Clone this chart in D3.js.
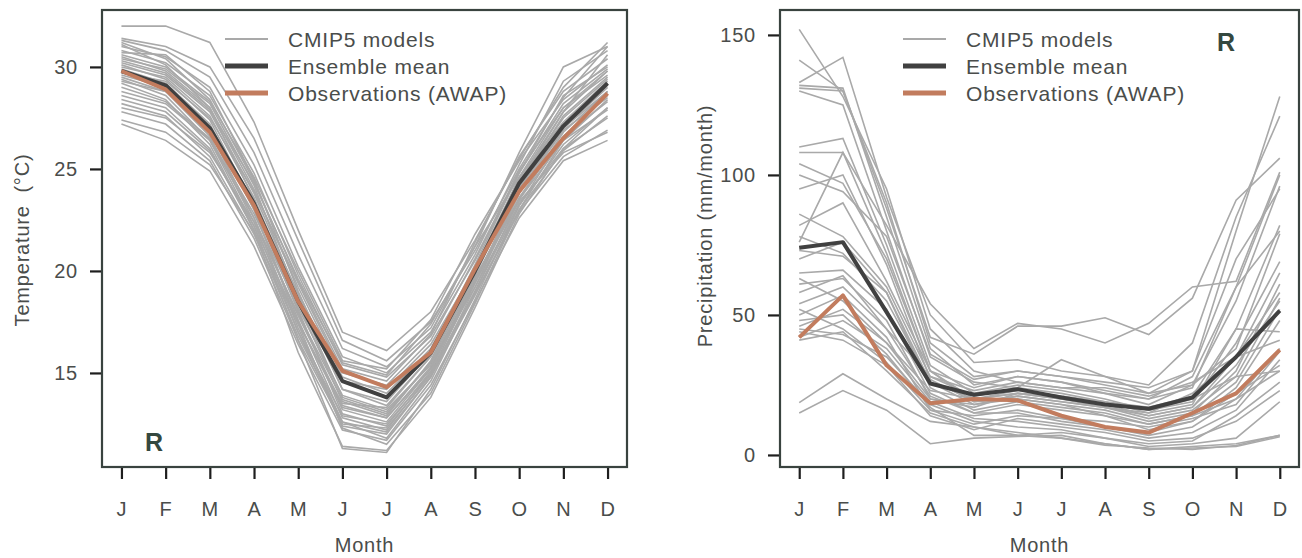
<!DOCTYPE html>
<html lang="en">
<head>
    <meta charset="UTF-8"/>
    <title>CMIP5 seasonal cycle</title>
    <script src="https://d3js.org/d3.v7.min.js"></script>
    <style type="text/css">
        body {
            margin: 0;
            background: white;
        }
        text {
            font-family: "Liberation Sans", Arial, sans-serif;
            fill: #4a4d4b;
            white-space: pre;
        }
    </style>
</head>
<body>
<svg id="main" width="1302" height="558"></svg>

<script>

// month labels
var months = ["J", "F", "M", "A", "M", "J", "J", "A", "S", "O", "N", "D"]

var legendLabels = ["CMIP5 models", "Ensemble mean", "Observations (AWAP)"]

// temperature (deg C), ensemble mean and AWAP observations
var tempMean = [29.8, 29.1, 27.0, 23.3, 18.5, 14.6, 13.8, 16.0, 20.0, 24.3, 27.1, 29.2]
var tempObs = [29.8, 28.9, 26.8, 23.2, 18.5, 15.1, 14.3, 16.0, 20.1, 23.9, 26.5, 28.7]

// temperature, one row per CMIP5 model
var tempModels = [
  [32.0, 32.0, 31.2, 27.3, 22.0, 17.0, 16.1, 18.0, 21.5, 25.5, 29.0, 31.2],
  [31.4, 31.0, 30.0, 26.5, 21.5, 16.6, 15.6, 17.5, 21.0, 25.0, 28.5, 31.0],
  [31.3, 30.8, 29.5, 25.8, 20.8, 16.2, 15.3, 17.2, 21.2, 25.8, 30.0, 31.0],
  [31.0, 30.5, 29.0, 25.2, 20.2, 15.8, 15.0, 17.0, 20.8, 25.2, 29.3, 30.8],
  [30.8, 30.2, 28.6, 24.8, 19.8, 15.4, 14.8, 16.8, 20.5, 24.8, 28.6, 30.0],
  [30.7, 30.6, 28.8, 24.5, 19.0, 14.2, 13.4, 15.8, 20.0, 24.6, 28.0, 29.8],
  [30.5, 29.8, 28.0, 24.0, 19.2, 14.8, 14.0, 16.2, 20.2, 24.5, 27.8, 29.8],
  [30.4, 29.9, 28.2, 24.2, 18.6, 13.8, 13.1, 15.5, 19.8, 24.2, 27.6, 29.5],
  [30.2, 29.6, 27.8, 23.8, 18.8, 14.2, 13.6, 16.0, 20.3, 24.8, 28.2, 29.9],
  [30.1, 29.4, 27.4, 23.2, 18.0, 13.2, 12.6, 15.2, 19.5, 24.0, 27.2, 29.2],
  [30.0, 29.5, 27.6, 23.6, 18.4, 13.6, 12.9, 15.6, 20.0, 24.4, 27.5, 29.4],
  [29.9, 29.2, 27.2, 23.0, 17.6, 12.8, 12.2, 15.0, 19.4, 23.9, 27.0, 29.0],
  [29.8, 29.0, 26.8, 22.6, 17.2, 12.6, 11.8, 14.6, 19.0, 23.5, 26.8, 28.8],
  [29.7, 29.3, 27.5, 23.9, 19.4, 15.0, 14.4, 16.6, 20.6, 24.9, 28.0, 29.6],
  [29.5, 28.8, 26.6, 22.4, 17.0, 12.4, 12.0, 14.8, 19.2, 23.8, 27.1, 29.1],
  [29.4, 28.6, 26.4, 22.2, 16.6, 11.3, 11.1, 14.2, 18.6, 23.2, 26.6, 28.6],
  [29.3, 28.8, 27.0, 23.4, 18.9, 14.6, 14.2, 16.4, 20.1, 24.1, 27.0, 28.8],
  [29.2, 28.4, 26.2, 22.0, 16.0, 11.4, 11.2, 13.8, 18.2, 22.8, 26.0, 28.0],
  [29.0, 28.3, 26.5, 22.8, 18.2, 13.9, 13.2, 15.4, 19.6, 23.8, 26.9, 28.5],
  [28.8, 28.2, 26.4, 22.6, 17.8, 13.4, 12.8, 15.2, 19.4, 23.6, 26.6, 28.3],
  [28.6, 28.0, 26.0, 22.0, 17.0, 12.9, 12.5, 15.0, 19.0, 23.2, 26.2, 28.0],
  [28.4, 27.8, 25.9, 22.2, 17.5, 13.3, 12.8, 15.3, 19.5, 23.5, 26.4, 27.9],
  [28.2, 27.6, 25.6, 21.8, 16.8, 12.6, 12.1, 14.8, 18.8, 23.0, 25.9, 27.6],
  [28.0, 27.5, 25.8, 22.4, 17.9, 13.7, 13.0, 15.5, 19.2, 23.3, 26.0, 27.5],
  [27.8, 27.2, 25.4, 21.6, 16.6, 12.5, 12.3, 14.9, 18.9, 22.9, 25.6, 26.9],
  [27.4, 26.8, 25.2, 21.9, 17.4, 13.5, 13.3, 15.8, 19.7, 23.4, 25.8, 26.8],
  [27.2, 26.4, 24.9, 21.2, 16.4, 12.2, 11.7, 14.4, 18.5, 22.6, 25.4, 26.4],
  [31.2, 30.4, 28.4, 24.4, 19.5, 15.2, 14.6, 16.9, 21.4, 25.6, 28.8, 30.4],
  [30.6, 30.0, 28.3, 24.6, 20.0, 15.6, 15.2, 17.6, 21.8, 25.4, 28.4, 30.1],
  [29.6, 29.0, 27.1, 23.0, 17.4, 12.3, 11.5, 14.0, 18.4, 23.0, 26.4, 28.4],
  [30.3, 29.7, 27.9, 24.3, 19.6, 15.5, 14.9, 17.4, 21.2, 24.6, 27.3, 29.3],
  [31.1, 30.1, 28.0, 23.5, 18.1, 13.0, 12.4, 15.1, 19.8, 24.3, 27.8, 30.6]
]
var tempTicks = [15, 20, 25, 30]

// precipitation (mm/month), ensemble mean and AWAP observations
var precMean = [74, 76, 51, 25.5, 21.5, 23.5, 20.5, 18, 16.5, 20.5, 35, 51.5]
var precObs = [42, 57, 32, 18.5, 20, 19.5, 14, 10, 8, 15, 22, 37.5]

// precipitation, one row per CMIP5 model
var precModels = [
  [152, 128, 95, 45, 30, 26, 24, 22, 20, 24, 60, 100],
  [141, 130, 90, 40, 28, 30, 28, 25, 22, 30, 80, 128],
  [133, 142, 92, 50, 33, 34, 30, 28, 25, 40, 85, 121],
  [132, 131, 85, 38, 25, 28, 26, 22, 18, 25, 55, 96],
  [131, 130, 88, 42, 36, 46, 46, 49, 43, 56, 91, 106],
  [130, 125, 80, 35, 26, 24, 22, 19, 17, 21, 45, 82],
  [110, 113, 75, 32, 22, 25, 23, 20, 16, 19, 40, 69],
  [108, 108, 82, 54, 38, 47, 45, 40, 47, 60, 62, 101],
  [104, 97, 70, 30, 20, 22, 20, 18, 14, 17, 35, 65],
  [100, 94, 78, 36, 27, 30, 28, 26, 24, 30, 70, 95],
  [86, 78, 60, 28, 21, 24, 34, 28, 22, 25, 38, 79],
  [82, 90, 62, 30, 19, 20, 18, 16, 12, 15, 30, 61],
  [78, 72, 55, 26, 18, 21, 19, 17, 13, 16, 28, 56],
  [73, 71, 58, 24, 16, 19, 17, 15, 11, 14, 26, 52],
  [65, 66, 52, 22, 15, 18, 16, 14, 9, 12, 24, 48],
  [61, 63, 48, 20, 17, 22, 21, 19, 15, 18, 45, 44],
  [54, 60, 45, 28, 23, 26, 24, 24, 21, 26, 35, 41],
  [50, 57, 42, 16, 14, 16, 13, 10, 7, 10, 20, 38],
  [46, 52, 40, 23, 20, 23, 21, 18, 16, 20, 28, 30],
  [45, 43, 35, 18, 12, 10, 9, 6, 4, 5, 14, 26],
  [42, 48, 38, 19, 13, 12, 10, 8, 5, 6, 12, 23],
  [41, 44, 30, 15, 10, 7, 6, 4, 2, 3, 4, 7],
  [48, 50, 36, 17, 7, 7, 8, 6, 3, 4, 6, 19],
  [18.7, 29, 20, 12, 10, 8, 6, 3.5, 2.5, 2, 3.4, 7],
  [15, 23, 16, 4, 6, 6.6, 7, 4, 2, 2.5, 3, 6.5],
  [58, 64, 45, 21, 15, 15, 12, 10, 8, 12, 22, 32],
  [70, 76, 58, 26, 20, 22, 20, 17, 14, 17, 32, 55],
  [95, 100, 68, 27, 19, 21, 19, 17, 15, 22, 35, 58],
  [76, 108, 72, 30, 24, 28, 26, 23, 20, 28, 60, 80],
  [63, 55, 40, 20, 18, 20, 18, 14, 11, 14, 20, 30],
  [52, 45, 33, 16, 11, 14, 13, 12, 10, 13, 18, 37],
  [44, 41, 32, 14, 9, 13, 11, 9, 6, 8, 16, 34]
]
var precTicks = [0, 50, 100, 150]

var svg = d3.select("#main")

var colModel = "#a9a9a9",
    colMean = "#404040",
    colObs = "#c27c5e",
    colFrame = "#39433f"

function styleText(sel, size) {
  sel.style("font-size", size + "px")
    .style("fill", "#4a4d4b")
    .style("letter-spacing", "0.8px")
    .style("font-family", "Liberation Sans, Arial, sans-serif")
}

function drawPanel(opt) {
  var left = opt.left, right = opt.right, top = 10, bottom = 467

  var x = d3.scaleLinear().domain([0.56, 12.44]).range([left, right])
  var y = d3.scaleLinear().domain(opt.ydomain).range([bottom, top])

  var g = svg.append("g")

  var line = d3.line()
    .x(function(d, i) { return x(i + 1) })
    .y(function(d) { return y(d) })

  // model spaghetti
  g.selectAll("path.model")
    .data(opt.models)
    .enter()
    .append("path")
      .attr("class", "model")
      .attr("d", line)
      .attr("fill", "none")
      .attr("stroke", colModel)
      .attr("stroke-width", 1.6)

  g.append("path")
    .attr("d", line(opt.mean))
    .attr("fill", "none")
    .attr("stroke", colMean)
    .attr("stroke-width", 4)
    .attr("stroke-linejoin", "round")

  g.append("path")
    .attr("d", line(opt.obs))
    .attr("fill", "none")
    .attr("stroke", colObs)
    .attr("stroke-width", 4)
    .attr("stroke-linejoin", "round")

  // frame
  g.append("rect")
    .attr("x", left).attr("y", top)
    .attr("width", right - left).attr("height", bottom - top)
    .attr("fill", "none")
    .attr("stroke", colFrame)
    .attr("stroke-width", 2.2)

  // x axis, ticks hang below the frame
  var xAxis = d3.axisBottom(x)
    .tickValues(d3.range(1, 13))
    .tickFormat(function(d) { return months[d - 1] })
    .tickSize(11)
    .tickPadding(23)
  var gx = g.append("g")
    .attr("transform", "translate(0," + (bottom + 1) + ")")
    .call(xAxis)
  gx.select(".domain").remove()
  gx.selectAll(".tick line").attr("stroke", "#1e1e1e").attr("stroke-width", 2.2)
  styleText(gx.selectAll(".tick text"), 20)

  // y axis
  var yAxis = d3.axisLeft(y)
    .tickValues(opt.ticks)
    .tickSize(11)
    .tickPadding(12)
  var gy = g.append("g")
    .attr("transform", "translate(" + (left - 1) + ",0)")
    .call(yAxis)
  gy.select(".domain").remove()
  gy.selectAll(".tick line").attr("stroke", "#1e1e1e").attr("stroke-width", 2.2)
  styleText(gy.selectAll(".tick text"), 20)

  // axis titles
  styleText(g.append("text")
    .attr("x", (left + right) / 2)
    .attr("y", 552)
    .attr("text-anchor", "middle")
    .text("Month"), 20)

  styleText(g.append("text")
    .attr("transform", "translate(" + opt.ylabX + "," + opt.ylabY + ") rotate(-90)")
    .attr("text-anchor", "middle")
    .text(opt.ylab), 20)

  // legend
  var legendCols = [colModel, colMean, colObs]
  var legendW = [2, 5, 5]
  var lg = g.append("g")
  legendLabels.forEach(function(lab, i) {
    var ly = 39 + i * 27
    lg.append("line")
      .attr("x1", left + 123).attr("x2", left + 166)
      .attr("y1", ly).attr("y2", ly)
      .attr("stroke", legendCols[i])
      .attr("stroke-width", legendW[i])
    styleText(lg.append("text")
      .attr("x", left + 186)
      .attr("y", ly)
      .attr("dy", "0.36em")
      .text(lab), 21)
  })

  // panel letter
  g.append("text")
    .attr("x", opt.rX)
    .attr("y", opt.rY)
    .attr("text-anchor", "middle")
    .style("font-size", "25px")
    .style("font-weight", "bold")
    .style("fill", "#34483f")
    .text("R")
}

drawPanel({
  left: 102, right: 627,
  ydomain: [10.39, 32.79],
  ticks: tempTicks,
  models: tempModels, mean: tempMean, obs: tempObs,
  ylab: "Temperature  (\u00b0C)", ylabX: 29, ylabY: 240,
  rX: 154, rY: 451
})

drawPanel({
  left: 780, right: 1299,
  ydomain: [-4.3, 158.9],
  ticks: precTicks,
  models: precModels, mean: precMean, obs: precObs,
  ylab: "Precipitation (mm/month)", ylabX: 712, ylabY: 226,
  rX: 1226, rY: 51
})

</script>
</body>
</html>
